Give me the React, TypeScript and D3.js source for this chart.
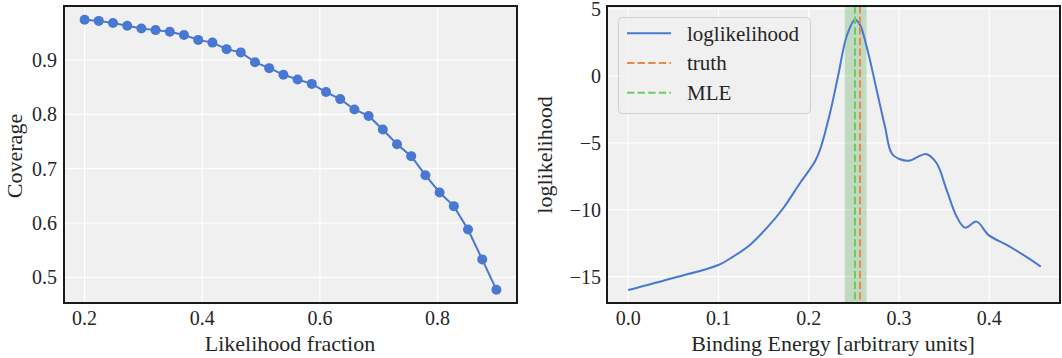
import * as d3 from 'd3';
import React from 'react';

// left panel: coverage vs likelihood fraction
const fractions = d3.range(30).map(i => 0.2 + (i * 0.7) / 29);
const coverage = [
  0.974, 0.972, 0.968, 0.963, 0.958, 0.955, 0.952, 0.946, 0.937, 0.932,
  0.920, 0.914, 0.896, 0.885, 0.873, 0.864, 0.856, 0.841, 0.828, 0.809,
  0.797, 0.772, 0.745, 0.723, 0.688, 0.656, 0.631, 0.588, 0.533, 0.477,
];
const leftXTicks = [0.2, 0.4, 0.6, 0.8];
const leftYTicks = [0.5, 0.6, 0.7, 0.8, 0.9];

// right panel: loglikelihood vs binding energy
const energy = [
  0.0, 0.05, 0.1, 0.1163, 0.1348, 0.1533, 0.1717, 0.1902, 0.2068, 0.2124,
  0.2235, 0.2327, 0.2419, 0.2512, 0.2567, 0.2641, 0.2752, 0.2844, 0.2918,
  0.301, 0.3121, 0.3213, 0.3306, 0.3417, 0.3527, 0.3638, 0.3731, 0.386,
  0.3989, 0.4193, 0.4377, 0.457,
];
const loglik = [
  -16.0, -15.1, -14.13, -13.5, -12.63, -11.38, -9.89, -8.02, -6.4, -5.53,
  -2.79, 0.07, 2.94, 4.19, 3.81, 2.19, -1.05, -3.79, -5.78,
  -6.23, -6.33, -6.03, -5.85, -6.53, -8.52, -10.51, -11.34, -10.89,
  -11.88, -12.63, -13.38, -14.25,
];
const truth = 0.2567;
const mle = 0.2512;
const mleBand = [0.2399, 0.264];
const rightXTicks = [0.0, 0.1, 0.2, 0.3, 0.4];
const rightYTicks = [5, 0, -5, -10, -15];

const BLUE = '#4878d0';
const ORANGE = '#ee854a';
const GREEN = '#6acc64';
const TEXT = '#262626';
const FONT = "'Liberation Serif', 'Times New Roman', 'DejaVu Serif', serif";

const top = 6, bottom = 303;

function App() {
  // left scales
  const lx = d3.scaleLinear().domain([0.165, 0.935]).range([64, 517]);
  const ly = d3.scaleLinear().domain([0.4527, 0.9994]).range([bottom, top]);
  // right scales
  const rx = d3.scaleLinear().domain([-0.0235, 0.4783]).range([607, 1060]);
  const ry = d3.scaleLinear().domain([-16.97, 5.22]).range([bottom, top]);

  const leftLine = d3.line<number>()
    .x((d, i) => lx(fractions[i]))
    .y(d => ly(d));

  const rightLine = d3.line<number>()
    .x((d, i) => rx(energy[i]))
    .y(d => ry(d))
    .curve(d3.curveCatmullRom.alpha(0.5));

  const fmtMinus = (v: number) => (v < 0 ? '\u2212' + Math.abs(v) : String(v));
  const txt = { fontFamily: FONT, fill: TEXT };

  return (
    <svg width={1062} height={358} style={{ position: 'absolute', left: 0, top: 0, background: '#fff', fontFamily: FONT }}>
      {/* left panel */}
      <rect x={64} y={top} width={453} height={bottom - top} fill="#f0f0f0" />
      {leftXTicks.map(t => (
        <line key={'lgx' + t} x1={lx(t)} x2={lx(t)} y1={top} y2={bottom} stroke="#fff" strokeWidth={1.2} />
      ))}
      {leftYTicks.map(t => (
        <line key={'lgy' + t} x1={64} x2={517} y1={ly(t)} y2={ly(t)} stroke="#fff" strokeWidth={1.2} />
      ))}
      <path d={leftLine(coverage) || ''} fill="none" stroke={BLUE} strokeWidth={2} />
      {coverage.map((c, i) => (
        <circle key={'pt' + i} cx={lx(fractions[i])} cy={ly(c)} r={5} fill={BLUE} />
      ))}
      <rect x={64} y={top} width={453} height={bottom - top} fill="none" stroke="#1a1a1a" strokeWidth={2} />
      {leftXTicks.map(t => (
        <text key={'lxt' + t} x={lx(t)} y={325} textAnchor="middle" fontSize={20} style={txt}>{t.toFixed(1)}</text>
      ))}
      {leftYTicks.map(t => (
        <text key={'lyt' + t} x={57} y={ly(t)} dy="0.35em" textAnchor="end" fontSize={20} style={txt}>{t.toFixed(1)}</text>
      ))}
      <text x={290} y={351} textAnchor="middle" fontSize={22} style={txt}>Likelihood fraction</text>
      <text transform="translate(22,156) rotate(-90)" textAnchor="middle" fontSize={22} style={txt}>Coverage</text>

      {/* right panel */}
      <rect x={607} y={top} width={453} height={bottom - top} fill="#f0f0f0" />
      {rightXTicks.map(t => (
        <line key={'rgx' + t} x1={rx(t)} x2={rx(t)} y1={top} y2={bottom} stroke="#fff" strokeWidth={1.2} />
      ))}
      {rightYTicks.map(t => (
        <line key={'rgy' + t} x1={607} x2={1060} y1={ry(t)} y2={ry(t)} stroke="#fff" strokeWidth={1.2} />
      ))}
      <rect x={rx(mleBand[0])} y={top} width={rx(mleBand[1]) - rx(mleBand[0])} height={bottom - top} fill="green" fillOpacity={0.2} />
      <path d={rightLine(loglik) || ''} fill="none" stroke={BLUE} strokeWidth={2} />
      <line x1={rx(truth)} x2={rx(truth)} y1={top} y2={bottom} stroke={ORANGE} strokeWidth={2} strokeDasharray="7.4,3.2" />
      <line x1={rx(mle)} x2={rx(mle)} y1={top} y2={bottom} stroke={GREEN} strokeWidth={2} strokeDasharray="7.4,3.2" />
      <rect x={607} y={top} width={453} height={bottom - top} fill="none" stroke="#1a1a1a" strokeWidth={2} />
      {rightXTicks.map(t => (
        <text key={'rxt' + t} x={rx(t)} y={325} textAnchor="middle" fontSize={20} style={txt}>{t.toFixed(1)}</text>
      ))}
      {rightYTicks.map(t => (
        <text key={'ryt' + t} x={601} y={Math.max(ry(t), 9)} dy="0.35em" textAnchor="end" fontSize={20} style={txt}>{fmtMinus(t)}</text>
      ))}
      <text x={833} y={351} textAnchor="middle" fontSize={22} style={txt}>Binding Energy [arbitrary units]</text>
      <text transform="translate(552,155) rotate(-90)" textAnchor="middle" fontSize={22} style={txt}>loglikelihood</text>

      {/* legend */}
      <rect x={618.5} y={17.5} width={192} height={96} rx={4} fill="#f0f0f0" fillOpacity={0.8} stroke="#d0d0d0" strokeWidth={1} />
      {[
        { label: 'loglikelihood', color: BLUE, dash: undefined },
        { label: 'truth', color: ORANGE, dash: '7.4,3.2' },
        { label: 'MLE', color: GREEN, dash: '7.4,3.2' },
      ].map((e, i) => {
        const y = 33.3 + i * 29.7;
        return (
          <g key={e.label}>
            <line x1={627} x2={671} y1={y} y2={y} stroke={e.color} strokeWidth={2} strokeDasharray={e.dash} />
            <text x={687} y={y} dy="0.35em" fontSize={21} style={txt}>{e.label}</text>
          </g>
        );
      })}
    </svg>
  );
}

export default App;
